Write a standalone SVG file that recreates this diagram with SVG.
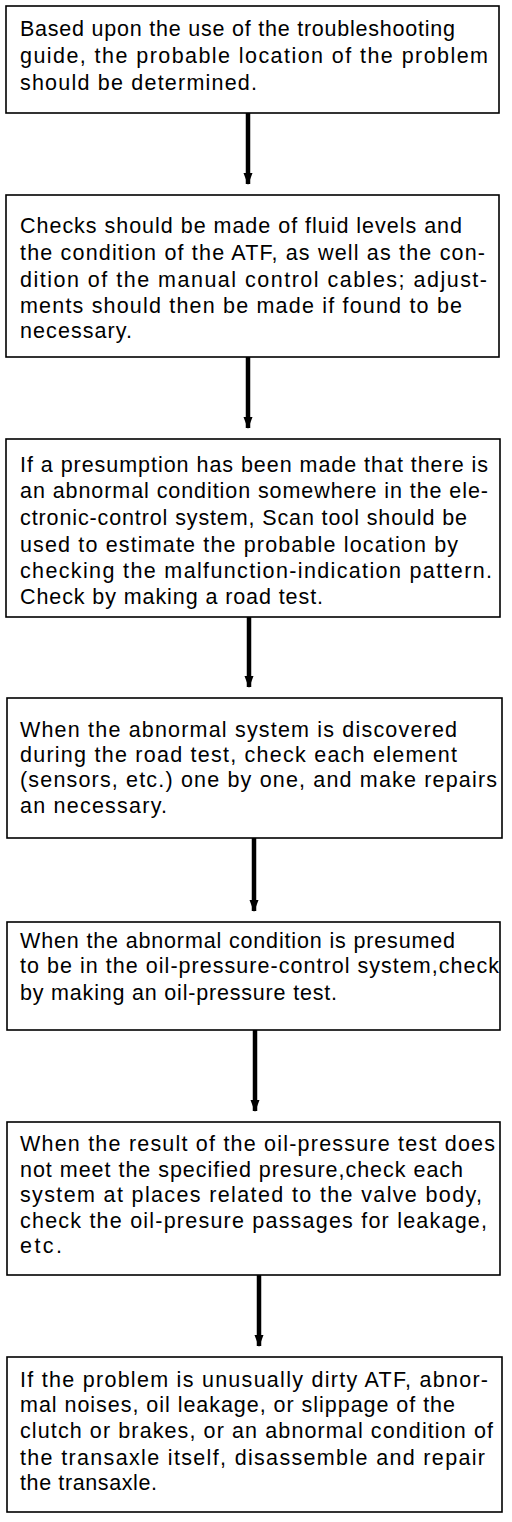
<svg xmlns="http://www.w3.org/2000/svg" width="512" height="1522" viewBox="0 0 512 1522">
<defs>
<style>
.box{fill:#fff;stroke:#000;stroke-width:1.6}
.t{font-family:"Liberation Sans",Arial,sans-serif;font-size:21.5px;fill:#000}
.c{stroke:#000;stroke-width:4.5;fill:none}
</style>
<marker id="ah" markerUnits="userSpaceOnUse" markerWidth="14" markerHeight="10" refX="0" refY="0" viewBox="-12 -5 14 10" orient="auto" overflow="visible">
<path d="M-11,-4.5 L-11,4.5 L1,0 Z" fill="#000"/>
</marker>
</defs>
<rect width="512" height="1522" fill="#fff"/>
<g id="connectors">
<line class="c" x1="248" y1="113" x2="248" y2="184" marker-end="url(#ah)"/>
<line class="c" x1="248" y1="357" x2="248" y2="428" marker-end="url(#ah)"/>
<line class="c" x1="249" y1="617" x2="249" y2="687" marker-end="url(#ah)"/>
<line class="c" x1="254" y1="838" x2="254" y2="911" marker-end="url(#ah)"/>
<line class="c" x1="255" y1="1030" x2="255" y2="1111" marker-end="url(#ah)"/>
<line class="c" x1="259" y1="1275" x2="259" y2="1346" marker-end="url(#ah)"/>
</g>
<g id="n1">
<rect class="box" x="6" y="6" width="493" height="107"/>
<text class="t" x="20" y="36" textLength="435" lengthAdjust="spacing">Based upon the use of the troubleshooting</text>
<text class="t" x="20" y="63" textLength="468" lengthAdjust="spacing">guide, the probable location of the problem</text>
<text class="t" x="20" y="90" textLength="237" lengthAdjust="spacing">should be determined.</text>
</g>
<g id="n2">
<rect class="box" x="6" y="195" width="493" height="162"/>
<text class="t" x="20" y="233" textLength="442" lengthAdjust="spacing">Checks should be made of fluid levels and</text>
<text class="t" x="20" y="260" textLength="465" lengthAdjust="spacing">the condition of the ATF, as well as the con-</text>
<text class="t" x="20" y="287" textLength="467" lengthAdjust="spacing">dition of the manual control cables; adjust-</text>
<text class="t" x="20" y="313" textLength="442" lengthAdjust="spacing">ments should then be made if found to be</text>
<text class="t" x="20" y="338" textLength="112" lengthAdjust="spacing">necessary.</text>
</g>
<g id="n3">
<rect class="box" x="6" y="439" width="494" height="178"/>
<text class="t" x="20" y="472" textLength="468" lengthAdjust="spacing">If a presumption has been made that there is</text>
<text class="t" x="20" y="498" textLength="468" lengthAdjust="spacing">an abnormal condition somewhere in the ele-</text>
<text class="t" x="20" y="525" textLength="447" lengthAdjust="spacing">ctronic-control system, Scan tool should be</text>
<text class="t" x="20" y="552" textLength="438" lengthAdjust="spacing">used to estimate the probable location by</text>
<text class="t" x="20" y="578" textLength="472" lengthAdjust="spacing">checking the malfunction-indication pattern.</text>
<text class="t" x="20" y="604" textLength="303" lengthAdjust="spacing">Check by making a road test.</text>
</g>
<g id="n4">
<rect class="box" x="7" y="698" width="495" height="140"/>
<text class="t" x="20" y="737" textLength="437" lengthAdjust="spacing">When the abnormal system is discovered</text>
<text class="t" x="20" y="762" textLength="437" lengthAdjust="spacing">during the road test, check each element</text>
<text class="t" x="20" y="787" textLength="477" lengthAdjust="spacing">(sensors, etc.) one by one, and make repairs</text>
<text class="t" x="20" y="813" textLength="147" lengthAdjust="spacing">an necessary.</text>
</g>
<g id="n5">
<rect class="box" x="7" y="922" width="493" height="108"/>
<text class="t" x="20" y="948" textLength="435" lengthAdjust="spacing">When the abnormal condition is presumed</text>
<text class="t" x="20" y="973" textLength="479" lengthAdjust="spacing">to be in the oil-pressure-control system,check</text>
<text class="t" x="20" y="1000" textLength="317" lengthAdjust="spacing">by making an oil-pressure test.</text>
</g>
<g id="n6">
<rect class="box" x="7" y="1122" width="493" height="153"/>
<text class="t" x="20" y="1151" textLength="475" lengthAdjust="spacing">When the result of the oil-pressure test does</text>
<text class="t" x="20" y="1177" textLength="443" lengthAdjust="spacing">not meet the specified presure,check each</text>
<text class="t" x="20" y="1202" textLength="462" lengthAdjust="spacing">system at places related to the valve body,</text>
<text class="t" x="20" y="1228" textLength="467" lengthAdjust="spacing">check the oil-presure passages for leakage,</text>
<text class="t" x="20" y="1253" textLength="42" lengthAdjust="spacing">etc.</text>
</g>
<g id="n7">
<rect class="box" x="7" y="1357" width="495" height="155"/>
<text class="t" x="20" y="1387" textLength="468" lengthAdjust="spacing">If the problem is unusually dirty ATF, abnor-</text>
<text class="t" x="20" y="1412" textLength="435" lengthAdjust="spacing">mal noises, oil leakage, or slippage of the</text>
<text class="t" x="20" y="1438" textLength="473" lengthAdjust="spacing">clutch or brakes, or an abnormal condition of</text>
<text class="t" x="20" y="1465" textLength="465" lengthAdjust="spacing">the transaxle itself, disassemble and repair</text>
<text class="t" x="20" y="1490" textLength="137" lengthAdjust="spacing">the transaxle.</text>
</g>
</svg>
